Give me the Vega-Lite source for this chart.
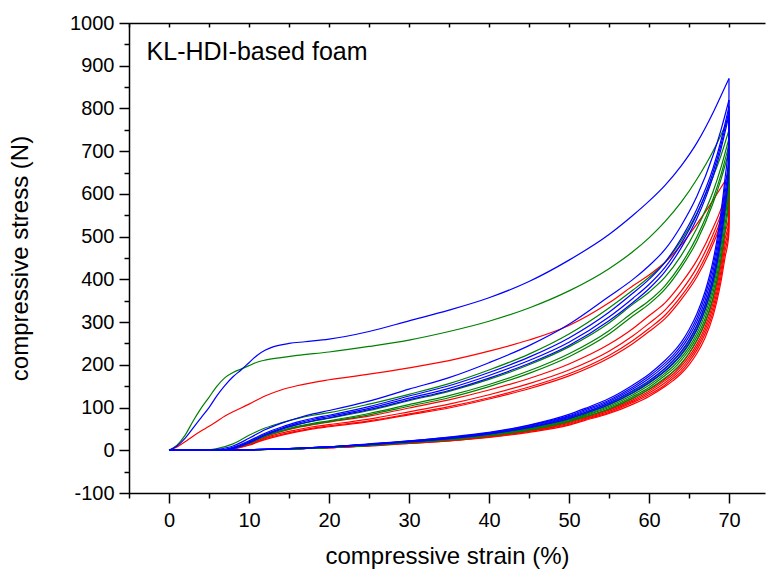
{
"$schema": "https://vega.github.io/schema/vega-lite/v6.json",
"width": 636,
"height": 470,
"autosize": "none",
"padding": {"left": 129, "top": 23, "right": 1, "bottom": 77},
"config": {
  "view": {"stroke": null},
  "font": "Liberation Sans",
  "axis": {"grid": false, "domainColor": "black", "tickColor": "black", "labelColor": "black", "titleColor": "black", "labelFont": "Liberation Sans", "titleFont": "Liberation Sans", "titleFontWeight": "normal", "domainWidth": 1.5, "tickWidth": 1.5}
},
"layer": [
{
"data": {"values": [
{"c":"r","s":"r1l","x":0,"y":0},{"c":"r","s":"r1l","x":1,"y":8},{"c":"r","s":"r1l","x":2,"y":20},{"c":"r","s":"r1l","x":3,"y":33},{"c":"r","s":"r1l","x":4,"y":45},{"c":"r","s":"r1l","x":5,"y":56},{"c":"r","s":"r1l","x":6,"y":68},{"c":"r","s":"r1l","x":7,"y":80},{"c":"r","s":"r1l","x":8,"y":90},{"c":"r","s":"r1l","x":9,"y":99},{"c":"r","s":"r1l","x":10,"y":108},{"c":"r","s":"r1l","x":12,"y":127},{"c":"r","s":"r1l","x":14,"y":141},{"c":"r","s":"r1l","x":16,"y":151},{"c":"r","s":"r1l","x":20,"y":165},{"c":"r","s":"r1l","x":25,"y":178},{"c":"r","s":"r1l","x":30,"y":193},{"c":"r","s":"r1l","x":35,"y":210},{"c":"r","s":"r1l","x":40,"y":232},{"c":"r","s":"r1l","x":45,"y":258},{"c":"r","s":"r1l","x":50,"y":292},{"c":"r","s":"r1l","x":55,"y":345},{"c":"r","s":"r1l","x":58,"y":385},{"c":"r","s":"r1l","x":60,"y":410},{"c":"r","s":"r1l","x":62,"y":440},{"c":"r","s":"r1l","x":64,"y":480},{"c":"r","s":"r1l","x":66,"y":530},{"c":"r","s":"r1l","x":68,"y":585},{"c":"r","s":"r1l","x":69,"y":615},{"c":"r","s":"r1l","x":70,"y":645},
{"c":"r","s":"r2l","x":0,"y":0},{"c":"r","s":"r2l","x":6,"y":0},{"c":"r","s":"r2l","x":7,"y":1},{"c":"r","s":"r2l","x":8,"y":5},{"c":"r","s":"r2l","x":10,"y":17},{"c":"r","s":"r2l","x":12,"y":32},{"c":"r","s":"r2l","x":14,"y":44},{"c":"r","s":"r2l","x":16,"y":53},{"c":"r","s":"r2l","x":18,"y":60},{"c":"r","s":"r2l","x":20,"y":66},{"c":"r","s":"r2l","x":25,"y":80},{"c":"r","s":"r2l","x":30,"y":99},{"c":"r","s":"r2l","x":35,"y":118},{"c":"r","s":"r2l","x":40,"y":141},{"c":"r","s":"r2l","x":45,"y":168},{"c":"r","s":"r2l","x":50,"y":202},{"c":"r","s":"r2l","x":55,"y":248},{"c":"r","s":"r2l","x":58,"y":285},{"c":"r","s":"r2l","x":60,"y":315},{"c":"r","s":"r2l","x":62,"y":345},{"c":"r","s":"r2l","x":64,"y":390},{"c":"r","s":"r2l","x":66,"y":445},{"c":"r","s":"r2l","x":68,"y":520},{"c":"r","s":"r2l","x":69,"y":565},{"c":"r","s":"r2l","x":70,"y":625},
{"c":"r","s":"r3l","x":0,"y":0},{"c":"r","s":"r3l","x":6,"y":0},{"c":"r","s":"r3l","x":7,"y":1},{"c":"r","s":"r3l","x":8,"y":4},{"c":"r","s":"r3l","x":10,"y":15},{"c":"r","s":"r3l","x":12,"y":29},{"c":"r","s":"r3l","x":14,"y":40},{"c":"r","s":"r3l","x":16,"y":48},{"c":"r","s":"r3l","x":18,"y":55},{"c":"r","s":"r3l","x":20,"y":60},{"c":"r","s":"r3l","x":25,"y":73},{"c":"r","s":"r3l","x":30,"y":90},{"c":"r","s":"r3l","x":35,"y":108},{"c":"r","s":"r3l","x":40,"y":130},{"c":"r","s":"r3l","x":45,"y":156},{"c":"r","s":"r3l","x":50,"y":188},{"c":"r","s":"r3l","x":55,"y":232},{"c":"r","s":"r3l","x":58,"y":268},{"c":"r","s":"r3l","x":60,"y":297},{"c":"r","s":"r3l","x":62,"y":328},{"c":"r","s":"r3l","x":64,"y":372},{"c":"r","s":"r3l","x":66,"y":428},{"c":"r","s":"r3l","x":68,"y":505},{"c":"r","s":"r3l","x":69,"y":552},{"c":"r","s":"r3l","x":70,"y":612},
{"c":"r","s":"r4l","x":0,"y":0},{"c":"r","s":"r4l","x":7,"y":0},{"c":"r","s":"r4l","x":8,"y":3},{"c":"r","s":"r4l","x":10,"y":13},{"c":"r","s":"r4l","x":12,"y":27},{"c":"r","s":"r4l","x":14,"y":37},{"c":"r","s":"r4l","x":16,"y":45},{"c":"r","s":"r4l","x":18,"y":52},{"c":"r","s":"r4l","x":20,"y":57},{"c":"r","s":"r4l","x":25,"y":69},{"c":"r","s":"r4l","x":30,"y":85},{"c":"r","s":"r4l","x":35,"y":102},{"c":"r","s":"r4l","x":40,"y":123},{"c":"r","s":"r4l","x":45,"y":148},{"c":"r","s":"r4l","x":50,"y":179},{"c":"r","s":"r4l","x":55,"y":222},{"c":"r","s":"r4l","x":58,"y":257},{"c":"r","s":"r4l","x":60,"y":285},{"c":"r","s":"r4l","x":62,"y":316},{"c":"r","s":"r4l","x":64,"y":360},{"c":"r","s":"r4l","x":66,"y":415},{"c":"r","s":"r4l","x":68,"y":492},{"c":"r","s":"r4l","x":69,"y":540},{"c":"r","s":"r4l","x":70,"y":600},
{"c":"r","s":"r5l","x":0,"y":0},{"c":"r","s":"r5l","x":7,"y":0},{"c":"r","s":"r5l","x":8,"y":3},{"c":"r","s":"r5l","x":10,"y":12},{"c":"r","s":"r5l","x":12,"y":25},{"c":"r","s":"r5l","x":14,"y":35},{"c":"r","s":"r5l","x":16,"y":43},{"c":"r","s":"r5l","x":18,"y":50},{"c":"r","s":"r5l","x":20,"y":55},{"c":"r","s":"r5l","x":25,"y":67},{"c":"r","s":"r5l","x":30,"y":83},{"c":"r","s":"r5l","x":35,"y":99},{"c":"r","s":"r5l","x":40,"y":120},{"c":"r","s":"r5l","x":45,"y":144},{"c":"r","s":"r5l","x":50,"y":174},{"c":"r","s":"r5l","x":55,"y":216},{"c":"r","s":"r5l","x":58,"y":250},{"c":"r","s":"r5l","x":60,"y":278},{"c":"r","s":"r5l","x":62,"y":308},{"c":"r","s":"r5l","x":64,"y":352},{"c":"r","s":"r5l","x":66,"y":406},{"c":"r","s":"r5l","x":68,"y":482},{"c":"r","s":"r5l","x":69,"y":530},{"c":"r","s":"r5l","x":70,"y":590},
{"c":"r","s":"r1u","x":70,"y":645},{"c":"r","s":"r1u","x":69.98,"y":545},{"c":"r","s":"r1u","x":69.5,"y":509},{"c":"r","s":"r1u","x":69,"y":445},{"c":"r","s":"r1u","x":68.5,"y":394},{"c":"r","s":"r1u","x":68,"y":354},{"c":"r","s":"r1u","x":67,"y":297},{"c":"r","s":"r1u","x":66,"y":257},{"c":"r","s":"r1u","x":65,"y":226},{"c":"r","s":"r1u","x":64,"y":201},{"c":"r","s":"r1u","x":63,"y":183},{"c":"r","s":"r1u","x":62,"y":167},{"c":"r","s":"r1u","x":60,"y":142},{"c":"r","s":"r1u","x":58,"y":122},{"c":"r","s":"r1u","x":55,"y":96},{"c":"r","s":"r1u","x":52,"y":78},{"c":"r","s":"r1u","x":50,"y":67},{"c":"r","s":"r1u","x":45,"y":48},{"c":"r","s":"r1u","x":40,"y":34},{"c":"r","s":"r1u","x":35,"y":24},{"c":"r","s":"r1u","x":30,"y":18},{"c":"r","s":"r1u","x":25,"y":12},{"c":"r","s":"r1u","x":20,"y":6},{"c":"r","s":"r1u","x":15,"y":3},{"c":"r","s":"r1u","x":10,"y":1},{"c":"r","s":"r1u","x":7,"y":0},{"c":"r","s":"r1u","x":0,"y":0},
{"c":"r","s":"r2u","x":70,"y":625},{"c":"r","s":"r2u","x":69.98,"y":535},{"c":"r","s":"r2u","x":69.5,"y":494},{"c":"r","s":"r2u","x":69,"y":433},{"c":"r","s":"r2u","x":68.5,"y":383},{"c":"r","s":"r2u","x":68,"y":344},{"c":"r","s":"r2u","x":67,"y":288},{"c":"r","s":"r2u","x":66,"y":249},{"c":"r","s":"r2u","x":65,"y":219},{"c":"r","s":"r2u","x":64,"y":196},{"c":"r","s":"r2u","x":63,"y":178},{"c":"r","s":"r2u","x":62,"y":163},{"c":"r","s":"r2u","x":60,"y":138},{"c":"r","s":"r2u","x":58,"y":118},{"c":"r","s":"r2u","x":55,"y":94},{"c":"r","s":"r2u","x":52,"y":76},{"c":"r","s":"r2u","x":50,"y":65},{"c":"r","s":"r2u","x":45,"y":46},{"c":"r","s":"r2u","x":40,"y":33},{"c":"r","s":"r2u","x":35,"y":24},{"c":"r","s":"r2u","x":30,"y":18},{"c":"r","s":"r2u","x":25,"y":11},{"c":"r","s":"r2u","x":20,"y":6},{"c":"r","s":"r2u","x":15,"y":3},{"c":"r","s":"r2u","x":10,"y":1},{"c":"r","s":"r2u","x":7,"y":0},{"c":"r","s":"r2u","x":0,"y":0},
{"c":"r","s":"r3u","x":70,"y":612},{"c":"r","s":"r3u","x":69.98,"y":525},{"c":"r","s":"r3u","x":69.5,"y":480},{"c":"r","s":"r3u","x":69,"y":420},{"c":"r","s":"r3u","x":68.5,"y":372},{"c":"r","s":"r3u","x":68,"y":334},{"c":"r","s":"r3u","x":67,"y":280},{"c":"r","s":"r3u","x":66,"y":242},{"c":"r","s":"r3u","x":65,"y":213},{"c":"r","s":"r3u","x":64,"y":190},{"c":"r","s":"r3u","x":63,"y":173},{"c":"r","s":"r3u","x":62,"y":158},{"c":"r","s":"r3u","x":60,"y":134},{"c":"r","s":"r3u","x":58,"y":115},{"c":"r","s":"r3u","x":55,"y":91},{"c":"r","s":"r3u","x":52,"y":74},{"c":"r","s":"r3u","x":50,"y":63},{"c":"r","s":"r3u","x":45,"y":45},{"c":"r","s":"r3u","x":40,"y":32},{"c":"r","s":"r3u","x":35,"y":23},{"c":"r","s":"r3u","x":30,"y":17},{"c":"r","s":"r3u","x":25,"y":11},{"c":"r","s":"r3u","x":20,"y":6},{"c":"r","s":"r3u","x":15,"y":3},{"c":"r","s":"r3u","x":10,"y":1},{"c":"r","s":"r3u","x":7,"y":0},{"c":"r","s":"r3u","x":0,"y":0},
{"c":"r","s":"r4u","x":70,"y":600},{"c":"r","s":"r4u","x":69.98,"y":515},{"c":"r","s":"r4u","x":69.5,"y":466},{"c":"r","s":"r4u","x":69,"y":407},{"c":"r","s":"r4u","x":68.5,"y":361},{"c":"r","s":"r4u","x":68,"y":324},{"c":"r","s":"r4u","x":67,"y":272},{"c":"r","s":"r4u","x":66,"y":235},{"c":"r","s":"r4u","x":65,"y":207},{"c":"r","s":"r4u","x":64,"y":184},{"c":"r","s":"r4u","x":63,"y":168},{"c":"r","s":"r4u","x":62,"y":153},{"c":"r","s":"r4u","x":60,"y":130},{"c":"r","s":"r4u","x":58,"y":112},{"c":"r","s":"r4u","x":55,"y":88},{"c":"r","s":"r4u","x":52,"y":72},{"c":"r","s":"r4u","x":50,"y":61},{"c":"r","s":"r4u","x":45,"y":44},{"c":"r","s":"r4u","x":40,"y":31},{"c":"r","s":"r4u","x":35,"y":22},{"c":"r","s":"r4u","x":30,"y":16},{"c":"r","s":"r4u","x":25,"y":11},{"c":"r","s":"r4u","x":20,"y":6},{"c":"r","s":"r4u","x":15,"y":3},{"c":"r","s":"r4u","x":10,"y":1},{"c":"r","s":"r4u","x":7,"y":0},{"c":"r","s":"r4u","x":0,"y":0},
{"c":"r","s":"r5u","x":70,"y":590},{"c":"r","s":"r5u","x":69.98,"y":505},{"c":"r","s":"r5u","x":69.5,"y":451},{"c":"r","s":"r5u","x":69,"y":395},{"c":"r","s":"r5u","x":68.5,"y":350},{"c":"r","s":"r5u","x":68,"y":314},{"c":"r","s":"r5u","x":67,"y":263},{"c":"r","s":"r5u","x":66,"y":227},{"c":"r","s":"r5u","x":65,"y":200},{"c":"r","s":"r5u","x":64,"y":179},{"c":"r","s":"r5u","x":63,"y":163},{"c":"r","s":"r5u","x":62,"y":149},{"c":"r","s":"r5u","x":60,"y":126},{"c":"r","s":"r5u","x":58,"y":108},{"c":"r","s":"r5u","x":55,"y":86},{"c":"r","s":"r5u","x":52,"y":70},{"c":"r","s":"r5u","x":50,"y":59},{"c":"r","s":"r5u","x":45,"y":42},{"c":"r","s":"r5u","x":40,"y":30},{"c":"r","s":"r5u","x":35,"y":22},{"c":"r","s":"r5u","x":30,"y":16},{"c":"r","s":"r5u","x":25,"y":10},{"c":"r","s":"r5u","x":20,"y":6},{"c":"r","s":"r5u","x":15,"y":3},{"c":"r","s":"r5u","x":10,"y":1},{"c":"r","s":"r5u","x":7,"y":0},{"c":"r","s":"r5u","x":0,"y":0},
{"c":"g","s":"g1l","x":0,"y":0},{"c":"g","s":"g1l","x":1,"y":12},{"c":"g","s":"g1l","x":2,"y":35},{"c":"g","s":"g1l","x":3,"y":68},{"c":"g","s":"g1l","x":4,"y":98},{"c":"g","s":"g1l","x":5,"y":124},{"c":"g","s":"g1l","x":6,"y":150},{"c":"g","s":"g1l","x":7,"y":170},{"c":"g","s":"g1l","x":8,"y":182},{"c":"g","s":"g1l","x":9,"y":190},{"c":"g","s":"g1l","x":10,"y":198},{"c":"g","s":"g1l","x":11,"y":206},{"c":"g","s":"g1l","x":12,"y":211},{"c":"g","s":"g1l","x":14,"y":217},{"c":"g","s":"g1l","x":16,"y":222},{"c":"g","s":"g1l","x":20,"y":230},{"c":"g","s":"g1l","x":25,"y":243},{"c":"g","s":"g1l","x":30,"y":258},{"c":"g","s":"g1l","x":35,"y":278},{"c":"g","s":"g1l","x":40,"y":302},{"c":"g","s":"g1l","x":45,"y":333},{"c":"g","s":"g1l","x":50,"y":373},{"c":"g","s":"g1l","x":55,"y":425},{"c":"g","s":"g1l","x":58,"y":465},{"c":"g","s":"g1l","x":60,"y":497},{"c":"g","s":"g1l","x":62,"y":535},{"c":"g","s":"g1l","x":64,"y":580},{"c":"g","s":"g1l","x":66,"y":635},{"c":"g","s":"g1l","x":68,"y":700},{"c":"g","s":"g1l","x":69,"y":738},{"c":"g","s":"g1l","x":70,"y":780},
{"c":"g","s":"g2l","x":0,"y":0},{"c":"g","s":"g2l","x":4,"y":0},{"c":"g","s":"g2l","x":5,"y":1},{"c":"g","s":"g2l","x":6,"y":4},{"c":"g","s":"g2l","x":8,"y":15},{"c":"g","s":"g2l","x":10,"y":35},{"c":"g","s":"g2l","x":12,"y":52},{"c":"g","s":"g2l","x":14,"y":64},{"c":"g","s":"g2l","x":16,"y":74},{"c":"g","s":"g2l","x":18,"y":82},{"c":"g","s":"g2l","x":20,"y":88},{"c":"g","s":"g2l","x":25,"y":108},{"c":"g","s":"g2l","x":30,"y":131},{"c":"g","s":"g2l","x":35,"y":156},{"c":"g","s":"g2l","x":40,"y":188},{"c":"g","s":"g2l","x":45,"y":225},{"c":"g","s":"g2l","x":50,"y":272},{"c":"g","s":"g2l","x":55,"y":333},{"c":"g","s":"g2l","x":58,"y":375},{"c":"g","s":"g2l","x":60,"y":405},{"c":"g","s":"g2l","x":62,"y":440},{"c":"g","s":"g2l","x":64,"y":490},{"c":"g","s":"g2l","x":66,"y":555},{"c":"g","s":"g2l","x":68,"y":640},{"c":"g","s":"g2l","x":69,"y":690},{"c":"g","s":"g2l","x":70,"y":750},
{"c":"g","s":"g3l","x":0,"y":0},{"c":"g","s":"g3l","x":6,"y":0},{"c":"g","s":"g3l","x":7,"y":1},{"c":"g","s":"g3l","x":8,"y":6},{"c":"g","s":"g3l","x":10,"y":20},{"c":"g","s":"g3l","x":12,"y":37},{"c":"g","s":"g3l","x":14,"y":50},{"c":"g","s":"g3l","x":16,"y":60},{"c":"g","s":"g3l","x":18,"y":68},{"c":"g","s":"g3l","x":20,"y":75},{"c":"g","s":"g3l","x":25,"y":93},{"c":"g","s":"g3l","x":30,"y":116},{"c":"g","s":"g3l","x":35,"y":138},{"c":"g","s":"g3l","x":40,"y":166},{"c":"g","s":"g3l","x":45,"y":200},{"c":"g","s":"g3l","x":50,"y":242},{"c":"g","s":"g3l","x":55,"y":298},{"c":"g","s":"g3l","x":58,"y":342},{"c":"g","s":"g3l","x":60,"y":370},{"c":"g","s":"g3l","x":62,"y":405},{"c":"g","s":"g3l","x":64,"y":455},{"c":"g","s":"g3l","x":66,"y":520},{"c":"g","s":"g3l","x":68,"y":605},{"c":"g","s":"g3l","x":69,"y":662},{"c":"g","s":"g3l","x":70,"y":730},
{"c":"g","s":"g4l","x":0,"y":0},{"c":"g","s":"g4l","x":6,"y":0},{"c":"g","s":"g4l","x":7,"y":1},{"c":"g","s":"g4l","x":8,"y":5},{"c":"g","s":"g4l","x":10,"y":18},{"c":"g","s":"g4l","x":12,"y":34},{"c":"g","s":"g4l","x":14,"y":46},{"c":"g","s":"g4l","x":16,"y":56},{"c":"g","s":"g4l","x":18,"y":63},{"c":"g","s":"g4l","x":20,"y":69},{"c":"g","s":"g4l","x":25,"y":86},{"c":"g","s":"g4l","x":30,"y":107},{"c":"g","s":"g4l","x":35,"y":128},{"c":"g","s":"g4l","x":40,"y":154},{"c":"g","s":"g4l","x":45,"y":186},{"c":"g","s":"g4l","x":50,"y":226},{"c":"g","s":"g4l","x":55,"y":280},{"c":"g","s":"g4l","x":58,"y":323},{"c":"g","s":"g4l","x":60,"y":350},{"c":"g","s":"g4l","x":62,"y":385},{"c":"g","s":"g4l","x":64,"y":435},{"c":"g","s":"g4l","x":66,"y":500},{"c":"g","s":"g4l","x":68,"y":588},{"c":"g","s":"g4l","x":69,"y":645},{"c":"g","s":"g4l","x":70,"y":715},
{"c":"g","s":"g5l","x":0,"y":0},{"c":"g","s":"g5l","x":6,"y":0},{"c":"g","s":"g5l","x":7,"y":1},{"c":"g","s":"g5l","x":8,"y":4},{"c":"g","s":"g5l","x":10,"y":16},{"c":"g","s":"g5l","x":12,"y":32},{"c":"g","s":"g5l","x":14,"y":44},{"c":"g","s":"g5l","x":16,"y":54},{"c":"g","s":"g5l","x":18,"y":61},{"c":"g","s":"g5l","x":20,"y":67},{"c":"g","s":"g5l","x":25,"y":83},{"c":"g","s":"g5l","x":30,"y":103},{"c":"g","s":"g5l","x":35,"y":123},{"c":"g","s":"g5l","x":40,"y":149},{"c":"g","s":"g5l","x":45,"y":180},{"c":"g","s":"g5l","x":50,"y":219},{"c":"g","s":"g5l","x":55,"y":272},{"c":"g","s":"g5l","x":58,"y":315},{"c":"g","s":"g5l","x":60,"y":342},{"c":"g","s":"g5l","x":62,"y":377},{"c":"g","s":"g5l","x":64,"y":427},{"c":"g","s":"g5l","x":66,"y":490},{"c":"g","s":"g5l","x":68,"y":578},{"c":"g","s":"g5l","x":69,"y":634},{"c":"g","s":"g5l","x":70,"y":700},
{"c":"g","s":"g1u","x":70,"y":780},{"c":"g","s":"g1u","x":69.98,"y":650},{"c":"g","s":"g1u","x":69.5,"y":578},{"c":"g","s":"g1u","x":69,"y":507},{"c":"g","s":"g1u","x":68.5,"y":448},{"c":"g","s":"g1u","x":68,"y":403},{"c":"g","s":"g1u","x":67,"y":337},{"c":"g","s":"g1u","x":66,"y":290},{"c":"g","s":"g1u","x":65,"y":255},{"c":"g","s":"g1u","x":64,"y":229},{"c":"g","s":"g1u","x":63,"y":208},{"c":"g","s":"g1u","x":62,"y":191},{"c":"g","s":"g1u","x":60,"y":161},{"c":"g","s":"g1u","x":58,"y":138},{"c":"g","s":"g1u","x":55,"y":109},{"c":"g","s":"g1u","x":52,"y":88},{"c":"g","s":"g1u","x":50,"y":75},{"c":"g","s":"g1u","x":45,"y":53},{"c":"g","s":"g1u","x":40,"y":38},{"c":"g","s":"g1u","x":35,"y":28},{"c":"g","s":"g1u","x":30,"y":20},{"c":"g","s":"g1u","x":25,"y":13},{"c":"g","s":"g1u","x":20,"y":7},{"c":"g","s":"g1u","x":15,"y":3},{"c":"g","s":"g1u","x":10,"y":1},{"c":"g","s":"g1u","x":7,"y":0},{"c":"g","s":"g1u","x":0,"y":0},
{"c":"g","s":"g2u","x":70,"y":750},{"c":"g","s":"g2u","x":69.98,"y":630},{"c":"g","s":"g2u","x":69.5,"y":561},{"c":"g","s":"g2u","x":69,"y":492},{"c":"g","s":"g2u","x":68.5,"y":436},{"c":"g","s":"g2u","x":68,"y":391},{"c":"g","s":"g2u","x":67,"y":328},{"c":"g","s":"g2u","x":66,"y":282},{"c":"g","s":"g2u","x":65,"y":248},{"c":"g","s":"g2u","x":64,"y":222},{"c":"g","s":"g2u","x":63,"y":202},{"c":"g","s":"g2u","x":62,"y":185},{"c":"g","s":"g2u","x":60,"y":157},{"c":"g","s":"g2u","x":58,"y":134},{"c":"g","s":"g2u","x":55,"y":106},{"c":"g","s":"g2u","x":52,"y":85},{"c":"g","s":"g2u","x":50,"y":73},{"c":"g","s":"g2u","x":45,"y":52},{"c":"g","s":"g2u","x":40,"y":37},{"c":"g","s":"g2u","x":35,"y":27},{"c":"g","s":"g2u","x":30,"y":20},{"c":"g","s":"g2u","x":25,"y":12},{"c":"g","s":"g2u","x":20,"y":7},{"c":"g","s":"g2u","x":15,"y":3},{"c":"g","s":"g2u","x":10,"y":1},{"c":"g","s":"g2u","x":7,"y":0},{"c":"g","s":"g2u","x":0,"y":0},
{"c":"g","s":"g3u","x":70,"y":730},{"c":"g","s":"g3u","x":69.98,"y":615},{"c":"g","s":"g3u","x":69.5,"y":545},{"c":"g","s":"g3u","x":69,"y":478},{"c":"g","s":"g3u","x":68.5,"y":423},{"c":"g","s":"g3u","x":68,"y":380},{"c":"g","s":"g3u","x":67,"y":318},{"c":"g","s":"g3u","x":66,"y":274},{"c":"g","s":"g3u","x":65,"y":241},{"c":"g","s":"g3u","x":64,"y":216},{"c":"g","s":"g3u","x":63,"y":196},{"c":"g","s":"g3u","x":62,"y":180},{"c":"g","s":"g3u","x":60,"y":152},{"c":"g","s":"g3u","x":58,"y":130},{"c":"g","s":"g3u","x":55,"y":103},{"c":"g","s":"g3u","x":52,"y":83},{"c":"g","s":"g3u","x":50,"y":71},{"c":"g","s":"g3u","x":45,"y":50},{"c":"g","s":"g3u","x":40,"y":36},{"c":"g","s":"g3u","x":35,"y":26},{"c":"g","s":"g3u","x":30,"y":19},{"c":"g","s":"g3u","x":25,"y":12},{"c":"g","s":"g3u","x":20,"y":7},{"c":"g","s":"g3u","x":15,"y":3},{"c":"g","s":"g3u","x":10,"y":1},{"c":"g","s":"g3u","x":7,"y":0},{"c":"g","s":"g3u","x":0,"y":0},
{"c":"g","s":"g4u","x":70,"y":715},{"c":"g","s":"g4u","x":69.98,"y":600},{"c":"g","s":"g4u","x":69.5,"y":529},{"c":"g","s":"g4u","x":69,"y":464},{"c":"g","s":"g4u","x":68.5,"y":410},{"c":"g","s":"g4u","x":68,"y":369},{"c":"g","s":"g4u","x":67,"y":308},{"c":"g","s":"g4u","x":66,"y":266},{"c":"g","s":"g4u","x":65,"y":234},{"c":"g","s":"g4u","x":64,"y":210},{"c":"g","s":"g4u","x":63,"y":190},{"c":"g","s":"g4u","x":62,"y":175},{"c":"g","s":"g4u","x":60,"y":147},{"c":"g","s":"g4u","x":58,"y":126},{"c":"g","s":"g4u","x":55,"y":100},{"c":"g","s":"g4u","x":52,"y":81},{"c":"g","s":"g4u","x":50,"y":69},{"c":"g","s":"g4u","x":45,"y":49},{"c":"g","s":"g4u","x":40,"y":35},{"c":"g","s":"g4u","x":35,"y":25},{"c":"g","s":"g4u","x":30,"y":18},{"c":"g","s":"g4u","x":25,"y":12},{"c":"g","s":"g4u","x":20,"y":7},{"c":"g","s":"g4u","x":15,"y":3},{"c":"g","s":"g4u","x":10,"y":1},{"c":"g","s":"g4u","x":7,"y":0},{"c":"g","s":"g4u","x":0,"y":0},
{"c":"g","s":"g5u","x":70,"y":700},{"c":"g","s":"g5u","x":69.98,"y":590},{"c":"g","s":"g5u","x":69.5,"y":512},{"c":"g","s":"g5u","x":69,"y":449},{"c":"g","s":"g5u","x":68.5,"y":398},{"c":"g","s":"g5u","x":68,"y":357},{"c":"g","s":"g5u","x":67,"y":299},{"c":"g","s":"g5u","x":66,"y":258},{"c":"g","s":"g5u","x":65,"y":227},{"c":"g","s":"g5u","x":64,"y":203},{"c":"g","s":"g5u","x":63,"y":184},{"c":"g","s":"g5u","x":62,"y":169},{"c":"g","s":"g5u","x":60,"y":143},{"c":"g","s":"g5u","x":58,"y":122},{"c":"g","s":"g5u","x":55,"y":97},{"c":"g","s":"g5u","x":52,"y":78},{"c":"g","s":"g5u","x":50,"y":67},{"c":"g","s":"g5u","x":45,"y":47},{"c":"g","s":"g5u","x":40,"y":34},{"c":"g","s":"g5u","x":35,"y":24},{"c":"g","s":"g5u","x":30,"y":18},{"c":"g","s":"g5u","x":25,"y":11},{"c":"g","s":"g5u","x":20,"y":7},{"c":"g","s":"g5u","x":15,"y":3},{"c":"g","s":"g5u","x":10,"y":1},{"c":"g","s":"g5u","x":7,"y":0},{"c":"g","s":"g5u","x":0,"y":0},
{"c":"b","s":"b1l","x":0,"y":0},{"c":"b","s":"b1l","x":1,"y":10},{"c":"b","s":"b1l","x":2,"y":28},{"c":"b","s":"b1l","x":3,"y":52},{"c":"b","s":"b1l","x":4,"y":76},{"c":"b","s":"b1l","x":5,"y":100},{"c":"b","s":"b1l","x":6,"y":128},{"c":"b","s":"b1l","x":7,"y":152},{"c":"b","s":"b1l","x":8,"y":172},{"c":"b","s":"b1l","x":9,"y":188},{"c":"b","s":"b1l","x":10,"y":205},{"c":"b","s":"b1l","x":11,"y":222},{"c":"b","s":"b1l","x":12,"y":234},{"c":"b","s":"b1l","x":13,"y":242},{"c":"b","s":"b1l","x":15,"y":250},{"c":"b","s":"b1l","x":17,"y":254},{"c":"b","s":"b1l","x":20,"y":260},{"c":"b","s":"b1l","x":25,"y":278},{"c":"b","s":"b1l","x":30,"y":303},{"c":"b","s":"b1l","x":35,"y":328},{"c":"b","s":"b1l","x":40,"y":357},{"c":"b","s":"b1l","x":45,"y":395},{"c":"b","s":"b1l","x":50,"y":445},{"c":"b","s":"b1l","x":55,"y":505},{"c":"b","s":"b1l","x":58,"y":550},{"c":"b","s":"b1l","x":60,"y":583},{"c":"b","s":"b1l","x":62,"y":620},{"c":"b","s":"b1l","x":64,"y":665},{"c":"b","s":"b1l","x":66,"y":720},{"c":"b","s":"b1l","x":68,"y":790},{"c":"b","s":"b1l","x":69,"y":830},{"c":"b","s":"b1l","x":70,"y":870},
{"c":"b","s":"b2l","x":0,"y":0},{"c":"b","s":"b2l","x":5,"y":0},{"c":"b","s":"b2l","x":6,"y":2},{"c":"b","s":"b2l","x":8,"y":10},{"c":"b","s":"b2l","x":10,"y":28},{"c":"b","s":"b2l","x":12,"y":48},{"c":"b","s":"b2l","x":14,"y":63},{"c":"b","s":"b2l","x":16,"y":75},{"c":"b","s":"b2l","x":18,"y":85},{"c":"b","s":"b2l","x":20,"y":93},{"c":"b","s":"b2l","x":25,"y":115},{"c":"b","s":"b2l","x":30,"y":143},{"c":"b","s":"b2l","x":35,"y":170},{"c":"b","s":"b2l","x":40,"y":205},{"c":"b","s":"b2l","x":45,"y":245},{"c":"b","s":"b2l","x":50,"y":295},{"c":"b","s":"b2l","x":55,"y":360},{"c":"b","s":"b2l","x":58,"y":400},{"c":"b","s":"b2l","x":60,"y":432},{"c":"b","s":"b2l","x":62,"y":470},{"c":"b","s":"b2l","x":64,"y":525},{"c":"b","s":"b2l","x":66,"y":595},{"c":"b","s":"b2l","x":68,"y":690},{"c":"b","s":"b2l","x":69,"y":750},{"c":"b","s":"b2l","x":70,"y":820},
{"c":"b","s":"b3l","x":0,"y":0},{"c":"b","s":"b3l","x":6,"y":0},{"c":"b","s":"b3l","x":7,"y":2},{"c":"b","s":"b3l","x":8,"y":7},{"c":"b","s":"b3l","x":10,"y":22},{"c":"b","s":"b3l","x":12,"y":40},{"c":"b","s":"b3l","x":14,"y":54},{"c":"b","s":"b3l","x":16,"y":66},{"c":"b","s":"b3l","x":18,"y":75},{"c":"b","s":"b3l","x":20,"y":82},{"c":"b","s":"b3l","x":25,"y":102},{"c":"b","s":"b3l","x":30,"y":127},{"c":"b","s":"b3l","x":35,"y":151},{"c":"b","s":"b3l","x":40,"y":182},{"c":"b","s":"b3l","x":45,"y":218},{"c":"b","s":"b3l","x":50,"y":263},{"c":"b","s":"b3l","x":55,"y":323},{"c":"b","s":"b3l","x":58,"y":368},{"c":"b","s":"b3l","x":60,"y":400},{"c":"b","s":"b3l","x":62,"y":440},{"c":"b","s":"b3l","x":64,"y":495},{"c":"b","s":"b3l","x":66,"y":565},{"c":"b","s":"b3l","x":68,"y":660},{"c":"b","s":"b3l","x":69,"y":725},{"c":"b","s":"b3l","x":70,"y":805},
{"c":"b","s":"b4l","x":0,"y":0},{"c":"b","s":"b4l","x":6,"y":0},{"c":"b","s":"b4l","x":7,"y":1},{"c":"b","s":"b4l","x":8,"y":5},{"c":"b","s":"b4l","x":10,"y":19},{"c":"b","s":"b4l","x":12,"y":37},{"c":"b","s":"b4l","x":14,"y":51},{"c":"b","s":"b4l","x":16,"y":63},{"c":"b","s":"b4l","x":18,"y":72},{"c":"b","s":"b4l","x":20,"y":79},{"c":"b","s":"b4l","x":25,"y":98},{"c":"b","s":"b4l","x":30,"y":122},{"c":"b","s":"b4l","x":35,"y":145},{"c":"b","s":"b4l","x":40,"y":175},{"c":"b","s":"b4l","x":45,"y":210},{"c":"b","s":"b4l","x":50,"y":253},{"c":"b","s":"b4l","x":55,"y":312},{"c":"b","s":"b4l","x":58,"y":356},{"c":"b","s":"b4l","x":60,"y":388},{"c":"b","s":"b4l","x":62,"y":428},{"c":"b","s":"b4l","x":64,"y":483},{"c":"b","s":"b4l","x":66,"y":553},{"c":"b","s":"b4l","x":68,"y":650},{"c":"b","s":"b4l","x":69,"y":715},{"c":"b","s":"b4l","x":70,"y":795},
{"c":"b","s":"b5l","x":0,"y":0},{"c":"b","s":"b5l","x":6,"y":0},{"c":"b","s":"b5l","x":7,"y":1},{"c":"b","s":"b5l","x":8,"y":4},{"c":"b","s":"b5l","x":10,"y":17},{"c":"b","s":"b5l","x":12,"y":35},{"c":"b","s":"b5l","x":14,"y":49},{"c":"b","s":"b5l","x":16,"y":60},{"c":"b","s":"b5l","x":18,"y":69},{"c":"b","s":"b5l","x":20,"y":76},{"c":"b","s":"b5l","x":25,"y":95},{"c":"b","s":"b5l","x":30,"y":118},{"c":"b","s":"b5l","x":35,"y":140},{"c":"b","s":"b5l","x":40,"y":169},{"c":"b","s":"b5l","x":45,"y":203},{"c":"b","s":"b5l","x":50,"y":245},{"c":"b","s":"b5l","x":55,"y":303},{"c":"b","s":"b5l","x":58,"y":346},{"c":"b","s":"b5l","x":60,"y":378},{"c":"b","s":"b5l","x":62,"y":418},{"c":"b","s":"b5l","x":64,"y":473},{"c":"b","s":"b5l","x":66,"y":543},{"c":"b","s":"b5l","x":68,"y":640},{"c":"b","s":"b5l","x":69,"y":705},{"c":"b","s":"b5l","x":70,"y":785},
{"c":"b","s":"b1u","x":70,"y":870},{"c":"b","s":"b1u","x":69.98,"y":730},{"c":"b","s":"b1u","x":69.5,"y":636},{"c":"b","s":"b1u","x":69,"y":557},{"c":"b","s":"b1u","x":68.5,"y":493},{"c":"b","s":"b1u","x":68,"y":443},{"c":"b","s":"b1u","x":67,"y":371},{"c":"b","s":"b1u","x":66,"y":320},{"c":"b","s":"b1u","x":65,"y":282},{"c":"b","s":"b1u","x":64,"y":252},{"c":"b","s":"b1u","x":63,"y":229},{"c":"b","s":"b1u","x":62,"y":210},{"c":"b","s":"b1u","x":60,"y":178},{"c":"b","s":"b1u","x":58,"y":153},{"c":"b","s":"b1u","x":55,"y":121},{"c":"b","s":"b1u","x":52,"y":98},{"c":"b","s":"b1u","x":50,"y":84},{"c":"b","s":"b1u","x":45,"y":59},{"c":"b","s":"b1u","x":40,"y":42},{"c":"b","s":"b1u","x":35,"y":31},{"c":"b","s":"b1u","x":30,"y":22},{"c":"b","s":"b1u","x":25,"y":15},{"c":"b","s":"b1u","x":20,"y":8},{"c":"b","s":"b1u","x":15,"y":4},{"c":"b","s":"b1u","x":10,"y":1},{"c":"b","s":"b1u","x":7,"y":0},{"c":"b","s":"b1u","x":0,"y":0},
{"c":"b","s":"b2u","x":70,"y":820},{"c":"b","s":"b2u","x":69.98,"y":690},{"c":"b","s":"b2u","x":69.5,"y":618},{"c":"b","s":"b2u","x":69,"y":541},{"c":"b","s":"b2u","x":68.5,"y":479},{"c":"b","s":"b2u","x":68,"y":431},{"c":"b","s":"b2u","x":67,"y":361},{"c":"b","s":"b2u","x":66,"y":311},{"c":"b","s":"b2u","x":65,"y":274},{"c":"b","s":"b2u","x":64,"y":245},{"c":"b","s":"b2u","x":63,"y":222},{"c":"b","s":"b2u","x":62,"y":204},{"c":"b","s":"b2u","x":60,"y":173},{"c":"b","s":"b2u","x":58,"y":148},{"c":"b","s":"b2u","x":55,"y":117},{"c":"b","s":"b2u","x":52,"y":95},{"c":"b","s":"b2u","x":50,"y":81},{"c":"b","s":"b2u","x":45,"y":58},{"c":"b","s":"b2u","x":40,"y":41},{"c":"b","s":"b2u","x":35,"y":30},{"c":"b","s":"b2u","x":30,"y":22},{"c":"b","s":"b2u","x":25,"y":14},{"c":"b","s":"b2u","x":20,"y":8},{"c":"b","s":"b2u","x":15,"y":4},{"c":"b","s":"b2u","x":10,"y":1},{"c":"b","s":"b2u","x":7,"y":0},{"c":"b","s":"b2u","x":0,"y":0},
{"c":"b","s":"b3u","x":70,"y":805},{"c":"b","s":"b3u","x":69.98,"y":680},{"c":"b","s":"b3u","x":69.5,"y":600},{"c":"b","s":"b3u","x":69,"y":525},{"c":"b","s":"b3u","x":68.5,"y":465},{"c":"b","s":"b3u","x":68,"y":418},{"c":"b","s":"b3u","x":67,"y":350},{"c":"b","s":"b3u","x":66,"y":302},{"c":"b","s":"b3u","x":65,"y":266},{"c":"b","s":"b3u","x":64,"y":238},{"c":"b","s":"b3u","x":63,"y":216},{"c":"b","s":"b3u","x":62,"y":198},{"c":"b","s":"b3u","x":60,"y":168},{"c":"b","s":"b3u","x":58,"y":144},{"c":"b","s":"b3u","x":55,"y":114},{"c":"b","s":"b3u","x":52,"y":92},{"c":"b","s":"b3u","x":50,"y":79},{"c":"b","s":"b3u","x":45,"y":56},{"c":"b","s":"b3u","x":40,"y":40},{"c":"b","s":"b3u","x":35,"y":29},{"c":"b","s":"b3u","x":30,"y":21},{"c":"b","s":"b3u","x":25,"y":14},{"c":"b","s":"b3u","x":20,"y":8},{"c":"b","s":"b3u","x":15,"y":4},{"c":"b","s":"b3u","x":10,"y":1},{"c":"b","s":"b3u","x":7,"y":0},{"c":"b","s":"b3u","x":0,"y":0},
{"c":"b","s":"b4u","x":70,"y":795},{"c":"b","s":"b4u","x":69.98,"y":670},{"c":"b","s":"b4u","x":69.5,"y":582},{"c":"b","s":"b4u","x":69,"y":509},{"c":"b","s":"b4u","x":68.5,"y":451},{"c":"b","s":"b4u","x":68,"y":405},{"c":"b","s":"b4u","x":67,"y":340},{"c":"b","s":"b4u","x":66,"y":293},{"c":"b","s":"b4u","x":65,"y":258},{"c":"b","s":"b4u","x":64,"y":231},{"c":"b","s":"b4u","x":63,"y":210},{"c":"b","s":"b4u","x":62,"y":192},{"c":"b","s":"b4u","x":60,"y":163},{"c":"b","s":"b4u","x":58,"y":140},{"c":"b","s":"b4u","x":55,"y":111},{"c":"b","s":"b4u","x":52,"y":89},{"c":"b","s":"b4u","x":50,"y":77},{"c":"b","s":"b4u","x":45,"y":54},{"c":"b","s":"b4u","x":40,"y":39},{"c":"b","s":"b4u","x":35,"y":28},{"c":"b","s":"b4u","x":30,"y":20},{"c":"b","s":"b4u","x":25,"y":14},{"c":"b","s":"b4u","x":20,"y":8},{"c":"b","s":"b4u","x":15,"y":4},{"c":"b","s":"b4u","x":10,"y":1},{"c":"b","s":"b4u","x":7,"y":0},{"c":"b","s":"b4u","x":0,"y":0},
{"c":"b","s":"b5u","x":70,"y":785},{"c":"b","s":"b5u","x":69.98,"y":660},{"c":"b","s":"b5u","x":69.5,"y":564},{"c":"b","s":"b5u","x":69,"y":494},{"c":"b","s":"b5u","x":68.5,"y":437},{"c":"b","s":"b5u","x":68,"y":393},{"c":"b","s":"b5u","x":67,"y":329},{"c":"b","s":"b5u","x":66,"y":284},{"c":"b","s":"b5u","x":65,"y":250},{"c":"b","s":"b5u","x":64,"y":224},{"c":"b","s":"b5u","x":63,"y":203},{"c":"b","s":"b5u","x":62,"y":186},{"c":"b","s":"b5u","x":60,"y":158},{"c":"b","s":"b5u","x":58,"y":135},{"c":"b","s":"b5u","x":55,"y":107},{"c":"b","s":"b5u","x":52,"y":86},{"c":"b","s":"b5u","x":50,"y":74},{"c":"b","s":"b5u","x":45,"y":53},{"c":"b","s":"b5u","x":40,"y":38},{"c":"b","s":"b5u","x":35,"y":27},{"c":"b","s":"b5u","x":30,"y":20},{"c":"b","s":"b5u","x":25,"y":13},{"c":"b","s":"b5u","x":20,"y":8},{"c":"b","s":"b5u","x":15,"y":4},{"c":"b","s":"b5u","x":10,"y":1},{"c":"b","s":"b5u","x":7,"y":0},{"c":"b","s":"b5u","x":0,"y":0}
]},
"mark": {"type": "line", "strokeWidth": 1.2, "clip": true, "interpolate": "monotone"},
"encoding": {
  "x": {"field": "x", "type": "quantitative",
    "scale": {"domain": [-5, 74.5], "nice": false, "zero": false},
    "axis": {"title": "compressive strain (%)", "values": [-5,0,5,10,15,20,25,30,35,40,45,50,55,60,65,70],
      "labelExpr": "datum.value % 10 === 0 ? '' + datum.value : ''",
      "tickSize": {"condition": {"test": "datum.value % 10 !== 0", "value": 5}, "value": 10},
      "labelFontSize": 20, "titleFontSize": 24, "labelPadding": 7, "titlePadding": 14, "labelFlush": false, "labelOverlap": false}},
  "y": {"field": "y", "type": "quantitative",
    "scale": {"domain": [-100, 1000], "nice": false, "zero": false},
    "axis": {"title": "compressive stress (N)", "values": [-100,-50,0,50,100,150,200,250,300,350,400,450,500,550,600,650,700,750,800,850,900,950,1000],
      "labelExpr": "datum.value % 100 === 0 ? '' + datum.value : ''",
      "tickSize": {"condition": {"test": "datum.value % 100 !== 0", "value": 5}, "value": 10},
      "labelFontSize": 20, "titleFontSize": 24, "labelPadding": 5, "titlePadding": 37, "labelFlush": false, "labelOverlap": false}},
  "color": {"field": "c", "type": "nominal", "scale": {"domain": ["r", "g", "b"], "range": ["#ff0000", "#008000", "#0000ff"]}, "legend": null},
  "detail": {"field": "s"}
}
},
{
"data": {"values": [{"t": "KL-HDI-based foam", "x": -2.8, "y": 913}]},
"mark": {"type": "text", "align": "left", "baseline": "alphabetic", "fontSize": 25, "font": "Liberation Sans", "color": "black"},
"encoding": {
  "x": {"field": "x", "type": "quantitative",
    "axis": {"orient": "top", "labels": false, "title": null, "values": [-5,0,5,10,15,20,25,30,35,40,45,50,55,60,65,70], "tickSize": -4}},
  "y": {"field": "y", "type": "quantitative", "axis": null},
  "text": {"field": "t"}
}
}
],
"resolve": {"axis": {"x": "independent", "y": "independent"}}
}
